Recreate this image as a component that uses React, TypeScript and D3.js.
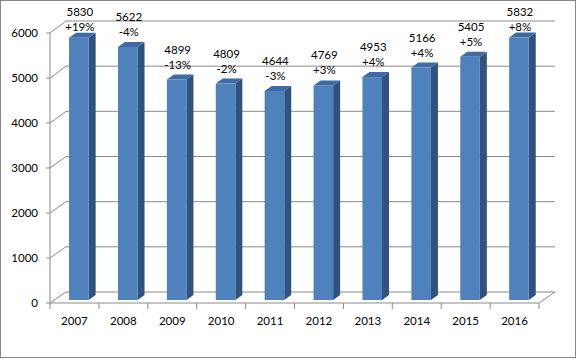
import React from "react";
import * as d3 from "d3";

const years = ["2007", "2008", "2009", "2010", "2011", "2012", "2013", "2014", "2015", "2016"];
const values = [5830, 5622, 4899, 4809, 4644, 4769, 4953, 5166, 5405, 5832];
const changes = ["+19%", "-4%", "-13%", "-2%", "-3%", "+3%", "+4%", "+4%", "+5%", "+8%"];
const yTicks = [0, 1000, 2000, 3000, 4000, 5000, 6000];

const W = 577;
const H = 359;
const FONT = "Lato, 'Open Sans', sans-serif";
const GRID = "#8a8a8a";

export default function App() {
  const x = d3.scaleBand<string>().domain(years).range([50, 539]).padding(0);
  const bw = x.bandwidth();
  const yFront = d3.scaleLinear().domain([0, 6000]).range([303, 33]);
  const yBack = d3.scaleLinear().domain([0, 6000]).range([292, 21]);
  const yBar = d3.scaleLinear().domain([0, 6000]).range([300, 30]);
  const wallDx = 16;
  const barDx = 7;
  const barDy = -5;
  const barOff = bw * 0.39;
  const barW = bw * 0.4;

  return (
    <svg width={W} height={H} style={{ position: "absolute", left: 0, top: 0, background: "#fff" }}>
      <rect x={0.5} y={0.5} width={575} height={357} fill="#fff" stroke="#868686" strokeWidth={1} />
      {/* walls / gridlines */}
      {yTicks.map((t) => (
        <g key={t}>
          <line x1={50} y1={yFront(t)} x2={50 + wallDx} y2={yBack(t)} stroke={GRID} strokeWidth={1} />
          <line x1={50 + wallDx} y1={yBack(t)} x2={539 + wallDx} y2={yBack(t)} stroke={GRID} strokeWidth={1} />
          <line x1={46} y1={yFront(t)} x2={50} y2={yFront(t)} stroke={GRID} strokeWidth={1} />
          <text x={38} y={yFront(t)} dy="0.35em" textAnchor="end" fontFamily={FONT} fontSize={11.5} fill="#000">
            {t}
          </text>
        </g>
      ))}
      <line x1={50} y1={yFront(6000)} x2={50} y2={yFront(0)} stroke={GRID} strokeWidth={1} />
      <line x1={50} y1={yFront(0)} x2={539} y2={yFront(0)} stroke={GRID} strokeWidth={1} />
      <line x1={539} y1={yFront(0)} x2={539 + wallDx} y2={yBack(0)} stroke={GRID} strokeWidth={1} />
      {years.map((yr, i) => (
        <line key={"t" + i} x1={x(yr)!} y1={yFront(0)} x2={x(yr)!} y2={yFront(0) + 6} stroke={GRID} strokeWidth={1} />
      ))}
      <line x1={539} y1={yFront(0)} x2={539} y2={yFront(0) + 6} stroke={GRID} strokeWidth={1} />
      {/* bars */}
      {years.map((yr, i) => {
        const x0 = x(yr)! + barOff;
        const x1 = x0 + barW;
        const yt = yBar(values[i]);
        const yb = yBar(0);
        const top = `${x0},${yt} ${x1},${yt} ${x1 + barDx},${yt + barDy} ${x0 + barDx},${yt + barDy}`;
        const side = `${x1},${yt} ${x1 + barDx},${yt + barDy} ${x1 + barDx},${yb + barDy} ${x1},${yb}`;
        const cx = x0 + barW / 2 + 1;
        let l2 = yt + barDy - 10;
        let l1 = l2 - 15;
        if (l1 < 12) {
          l1 = 12;
          l2 = 27;
        }
        return (
          <g key={yr}>
            <polygon points={side} fill="#30527f" />
            <polygon points={top} fill="#3f6aa2" />
            <rect x={x0} y={yt} width={barW} height={yb - yt} fill="#4f81bd" />
            <text x={cx} y={l1} dy="0.35em" textAnchor="middle" fontFamily={FONT} fontSize={11.5} fill="#000">
              {values[i]}
            </text>
            <text x={cx} y={l2} dy="0.35em" textAnchor="middle" fontFamily={FONT} fontSize={11.5} fill="#000">
              {changes[i]}
            </text>
            <text x={x(yr)! + bw / 2} y={321} dy="0.35em" textAnchor="middle" fontFamily={FONT} fontSize={11.5} fill="#000">
              {yr}
            </text>
          </g>
        );
      })}
    </svg>
  );
}
